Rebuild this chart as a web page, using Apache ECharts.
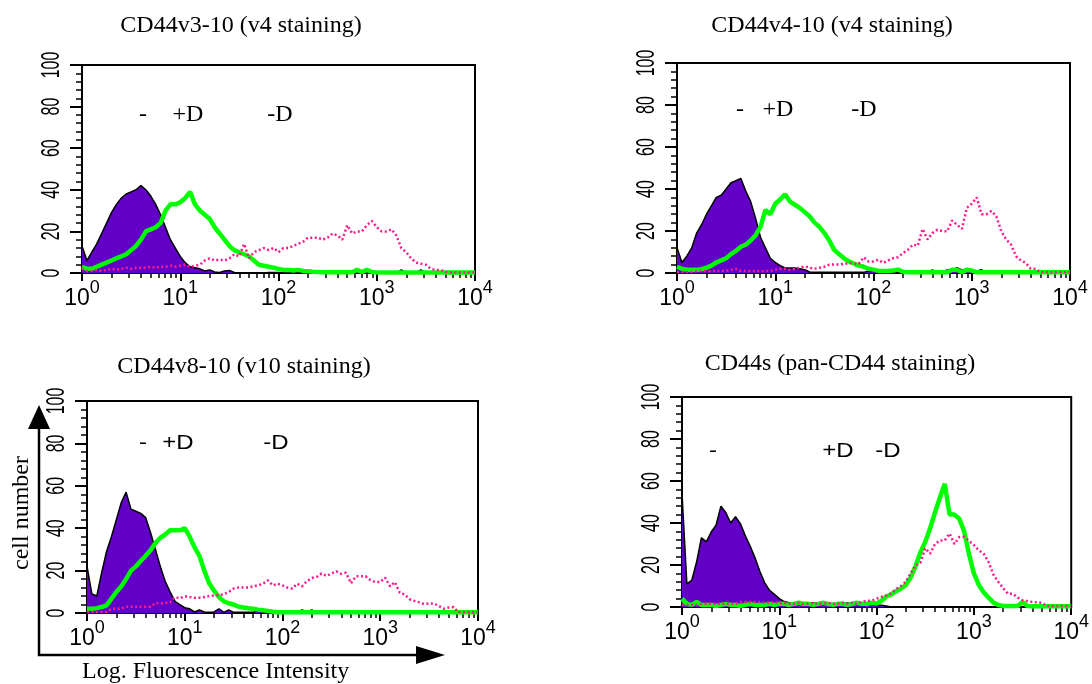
<!DOCTYPE html>
<html>
<head>
<meta charset="utf-8">
<script src="https://cdn.jsdelivr.net/npm/echarts@6/dist/echarts.min.js"></script>
<style>
  html, body { margin: 0; padding: 0; background: #fff; }
  #chart { width: 1092px; height: 684px; }
</style>
</head>
<body>
<div id="chart"></div>
<script>
// Histogram bins: position of each bin in decades of fluorescence (0 -> 10^0, 4 -> 10^4)
const binDecades = Array.from({ length: 81 }, (_, i) => i / 20);

// Axis ticks
const yTickValues = [0, 20, 40, 60, 80, 100];
const minorTickValues = [];
[1, 10, 100, 1000].forEach(b => { for (let m = 2; m <= 9; m++) minorTickValues.push(b * m); });

const panelTitles = [
  'CD44v3-10 (v4 staining)',
  'CD44v4-10 (v4 staining)',
  'CD44v8-10 (v10 staining)',
  'CD44s (pan-CD44 staining)'
];

// ---- CD44v3-10 (v4 staining): cell counts per bin ----
const v3Neg = [
  13, 6, 10, 14, 19, 24, 29, 33, 36, 38,
  39, 40, 42, 40, 37, 33, 28, 22, 16, 12,
  8, 5, 3, 2.5, 2, 1, 1.5, 0.5, 0.3, 1,
  1.2, 0.3, 0, 0, 0, 0, 0, 0, 0.3, 0.3,
  0.3, 0.3, 0, 0, 0, 0, 0, 0, 0, 0,
  0, 0, 0, 0, 0, 0, 0, 0, 0, 0,
  0, 0, 0, 0, 0, 1.5, 0, 0, 0, 1.5,
  0, 0, 0, 0, 0, 0, 0, 0, 0, 0,
  0
];
const v3PlusD = [
  3, 2, 2, 3, 4, 5, 6, 7, 8, 9,
  11, 13, 16, 20, 21, 22, 24, 30, 33, 33,
  34, 36, 39, 33, 30, 28, 26, 22, 19, 16,
  13, 11, 10, 9, 8, 6, 4, 3.5, 3, 2.5,
  2, 1.5, 1.5, 1.2, 1.5, 1, 0.8, 0.6, 0.5, 0.4,
  0.4, 0.4, 0.4, 0.4, 0.4, 0.4, 1.5, 0.5, 1.5, 0.5,
  0.3, 0.3, 0.3, 0.3, 0.3, 0.3, 0.3, 0.3, 0.3, 0.3,
  0.3, 0.3, 0.3, 0.3, 0.3, 0.3, 0.3, 0.3, 0.3, 0.3,
  0.3
];
const v3MinusD = [
  2, 1, 1, 1.5, 1, 1.5, 2, 1.5, 2, 2.5,
  2, 2.5, 2.5, 2.5, 3, 2.5, 3, 3, 3.5, 3,
  3.5, 4, 3, 3.5, 4, 6, 7, 6, 6.5, 6,
  7, 9, 8, 14, 7, 10, 11, 12, 11, 12,
  10, 12, 12, 13, 14, 15, 17, 17, 17, 16,
  17, 19, 18, 16, 23, 19, 20, 20, 23, 25,
  22, 20, 20, 21, 18, 12, 10, 7, 5, 4.5,
  4, 2, 1.5, 1.5, 0.5, 0.3, 0.3, 0.3, 0.3, 0.3,
  0.3
];

// ---- CD44v4-10 (v4 staining) ----
const v4Neg = [
  12, 5, 8, 12, 19, 23, 28, 32, 36, 37,
  40, 43, 44, 45, 39, 34, 26, 17, 12, 7,
  5, 3.5, 2.4, 2.4, 2.4, 2, 1.6, 0.5, 0.3, 0.3,
  0.3, 0.3, 0.3, 0.3, 0.3, 0.3, 0.3, 0.3, 0.3, 1,
  1, 1, 0, 0, 0, 0, 0, 0, 0, 0,
  0, 0, 1.5, 0, 0.5, 1.5, 1, 2.5, 1.5, 1,
  1.5, 1, 1.5, 0.5, 0, 0, 0, 0, 0, 0,
  0, 0, 0, 0, 0, 0, 0, 0, 0, 0,
  0
];
const v4PlusD = [
  3, 2, 1.6, 1.6, 1.6, 1.8, 2.5, 3.5, 5, 6,
  7, 9, 10.5, 12.5, 13.5, 15.5, 18, 22, 30, 28,
  33, 35, 37.5, 34, 32.5, 31, 29, 27, 24, 22,
  19, 15.5, 11, 9, 7, 5.5, 4.5, 3.5, 3, 2,
  1.6, 1, 1, 1, 1.2, 1.6, 0.6, 0.3, 0.3, 0.3,
  0.3, 0.3, 0.3, 0.3, 0.3, 0.3, 1.5, 1.5, 0.5, 1.5,
  1.2, 0.3, 0.3, 0.3, 0.3, 0.3, 0.3, 0.3, 0.3, 0.3,
  0.3, 0.3, 0.3, 0.3, 0.3, 0.3, 0.3, 0.3, 0.3, 0.3,
  0.3
];
const v4MinusD = [
  0.5, 0.5, 0.5, 0.5, 0.8, 1, 0.8, 1, 1, 1,
  1, 1.5, 2, 1, 1, 1, 1, 0.8, 1, 1,
  1.5, 2, 2, 1.5, 2, 2.5, 3.2, 2.5, 2, 2.5,
  3, 4, 4, 4, 4.3, 4.8, 4.5, 4.3, 7.5, 5.5,
  5.5, 6.3, 4.8, 6, 7.1, 7.5, 9.5, 11, 13.5, 13,
  21, 16, 19, 20.6, 20, 19.8, 25, 23, 21, 31,
  33, 36, 28, 28, 29.5, 27, 20, 16, 13.5, 8,
  6, 4.8, 2, 2, 0.3, 0.3, 0.3, 0.3, 0.3, 0.3,
  0.3
];

// ---- CD44v8-10 (v10 staining) ----
const v8Neg = [
  22, 9, 8, 19, 29, 36, 44, 52, 57, 49,
  48, 47, 45, 38, 30, 22, 15, 10, 5.5, 4,
  2.5, 2, 0.5, 1.5, 0.5, 0.3, 0.5, 2, 0.3, 1.5,
  0.3, 0.3, 0.3, 0.3, 0.3, 1.5, 0.3, 0.3, 0.3, 0.3,
  0.3, 0.3, 0.3, 0.3, 1.5, 0.5, 1.5, 0, 0, 0,
  0, 0, 0, 0, 0, 0, 0, 0, 0, 0,
  0, 0, 0, 0, 0, 0, 0, 0, 0, 0,
  0, 0, 0, 0, 0, 0, 0, 0, 0, 0,
  0
];
const v8PlusD = [
  2, 2, 2.3, 2.8, 3.6, 6.8, 9.9, 12.5, 16, 20,
  22, 24.5, 27, 29.6, 33, 35.5, 37, 39, 39, 39,
  40, 36, 31, 27, 20, 14, 10.5, 7.5, 5.5, 4.6,
  4, 3, 2.6, 2.2, 2, 1.6, 1.3, 1, 0.6, 0.4,
  0.3, 0.3, 0.3, 0.3, 0.3, 0.3, 0.3, 0.3, 0.3, 0.3,
  0.3, 0.3, 0.3, 0.3, 0.3, 0.3, 0.3, 0.3, 0.3, 0.3,
  0.3, 0.3, 0.3, 0.3, 0.3, 0.3, 0.3, 0.3, 0.3, 0.3,
  0.3, 0.3, 0.3, 0.3, 0.3, 0.3, 0.3, 0.3, 0.3, 0.3,
  0.3
];
const v8MinusD = [
  0.5, 0.5, 0.5, 0.5, 0.5, 2, 2, 2, 3, 3,
  3, 3, 3, 3, 4.7, 4.5, 4.7, 5, 7.5, 7,
  7.9, 7.5, 7.2, 7.2, 7.5, 8, 8.3, 8.5, 8.8, 10,
  11.5, 12, 12, 12, 12.6, 13, 13.8, 15.4, 13, 13.8,
  13, 12, 11.5, 13.8, 12.6, 15, 16.5, 17, 18.6, 17.5,
  18.6, 19.7, 18.5, 19, 14, 17.3, 17.3, 17.3, 15.5, 14.6,
  14.6, 16.7, 12.6, 14.6, 9.5, 8.8, 6.5, 5.7, 5, 4.2,
  4.5, 4.5, 3.3, 2, 2.6, 2.8, 0.3, 0.3, 0.3, 0.3,
  0.3
];

// ---- CD44s (pan-CD44 staining) ----
const sNeg = [
  54, 11, 12.7, 21.4, 33, 31, 35.7, 39, 48, 45,
  40, 43, 39.7, 34, 29, 23.5, 17, 11.5, 7.9, 6,
  4, 2.6, 2, 1.5, 1.8, 1.2, 1.5, 2, 1.5, 1.2,
  1.8, 1.5, 1.2, 1.5, 2, 1.5, 1.2, 1.5, 1.8, 1.5,
  1, 0.8, 0.5, 0, 0, 0, 0, 0, 0, 0,
  0, 0, 0, 0, 0, 0, 0, 0, 0, 0,
  0, 0, 0, 0, 0, 0, 0, 0, 0, 0,
  0, 0, 0, 0, 0, 0, 0, 0, 0, 0,
  0
];
const sPlusD = [
  4, 1.5, 1, 2.4, 1, 1, 1, 0.5, 1, 1.5,
  1, 1, 0.5, 1, 1.5, 1, 1, 1, 1.5, 1,
  1.5, 1.5, 1, 1.5, 2, 1.5, 1.5, 1, 1.5, 2,
  1.5, 1, 1.5, 1.5, 1, 1.5, 2, 1.5, 1.5, 2,
  1.6, 3, 5, 6, 7.5, 8.7, 10.5, 14, 19.5, 26,
  31, 37.5, 45, 52, 58.7, 44, 44, 42, 36, 25,
  16, 10.5, 7, 4.5, 2.2, 1, 0.5, 0.5, 0.5, 0.5,
  2.4, 0.5, 0.3, 0.3, 0.3, 0.3, 0.3, 0.3, 0.3, 0.3,
  0.3
];
const sMinusD = [
  1, 1, 1, 1, 1.5, 1.5, 1.5, 1.5, 1.5, 1.5,
  1.5, 1.5, 2.4, 2.4, 2.4, 2.4, 2.4, 2, 2, 2.5,
  1.5, 2, 1.5, 1.5, 2, 1.5, 1.5, 2, 1.5, 1.5,
  2, 1.5, 1.5, 2, 1.5, 2, 1.5, 2.5, 3, 3,
  4, 4.8, 5.5, 6.5, 8.5, 10, 12, 16, 19.8, 21,
  28, 25.4, 30, 31.7, 31.7, 35, 30, 33.3, 33.3, 31.5,
  29.5, 27, 25.4, 21.5, 15.5, 12, 9, 6.3, 6.3, 4.5,
  3.2, 2.8, 2.4, 2.2, 2, 0.5, 0.5, 0.5, 0.5, 0.5,
  0.5
];

const panels = [
  { neg: v3Neg, plus: v3PlusD, minus: v3MinusD },
  { neg: v4Neg, plus: v4PlusD, minus: v4MinusD },
  { neg: v8Neg, plus: v8PlusD, minus: v8MinusD },
  { neg: sNeg, plus: sPlusD, minus: sMinusD }
];

// Plot rectangles of the four histograms
const gridBoxes = [
  { left: 82, top: 65, width: 393, height: 208 },
  { left: 677, top: 63, width: 393, height: 210 },
  { left: 87, top: 401, width: 391, height: 212 },
  { left: 682, top: 397, width: 393, height: 210 }
];

const BLACK = '#000';
const FILL_NEG = '#6200C8';
const GREEN = '#00FF00';
const PINK = '#FF1A8C';
const SERIF = '"Liberation Serif", "Times New Roman", serif';
const SANS = '"Liberation Sans", Arial, sans-serif';

const toPairs = arr => binDecades.map((d, i) => [Math.pow(10, d), arr[i]]);

const grid = gridBoxes.map(b => Object.assign({
  show: true, borderColor: BLACK, borderWidth: 2, backgroundColor: 'transparent', containLabel: false
}, b));

const xAxis = [];
const yAxis = [];
gridBoxes.forEach((b, g) => {
  xAxis.push({
    type: 'log', logBase: 10, min: 1, max: 10000, gridIndex: g, position: 'bottom',
    axisLine: { show: true, lineStyle: { color: BLACK, width: 2 } },
    axisTick: { show: true, length: 8, lineStyle: { color: BLACK, width: 2 } },
    splitLine: { show: false },
    axisLabel: {
      margin: 6,
      formatter: v => '{b|10}{s|' + Math.round(Math.log10(v)) + '}',
      rich: {
        b: { fontSize: 23, fontFamily: SANS, color: BLACK, lineHeight: 31, verticalAlign: 'bottom' },
        s: { fontSize: 18, fontFamily: SANS, color: BLACK, lineHeight: 18, verticalAlign: 'top' }
      }
    }
  });
});
gridBoxes.forEach((b, g) => {
  // log-spaced minor ticks 2..9 within each decade
  xAxis.push({
    type: 'log', logBase: 10, min: 1, max: 10000, gridIndex: g, position: 'bottom',
    axisLine: { show: false },
    axisLabel: { show: false },
    splitLine: { show: false },
    axisTick: { show: true, length: 5, customValues: minorTickValues, lineStyle: { color: BLACK, width: 1.5 } }
  });
  yAxis.push({
    type: 'value', min: 0, max: 100, interval: 20, gridIndex: g,
    axisLine: { show: true, lineStyle: { color: BLACK, width: 2 } },
    axisTick: { show: true, length: 12, lineStyle: { color: BLACK, width: 2 } },
    minorTick: { show: true, splitNumber: 5, length: 6, lineStyle: { color: BLACK, width: 1.5 } },
    splitLine: { show: false },
    // tick labels are drawn as condensed, rotated text below
    axisLabel: { show: false }
  });
});

const series = [];
panels.forEach((p, g) => {
  series.push({
    name: '-', type: 'line', xAxisIndex: g, yAxisIndex: g, data: toPairs(p.neg),
    symbol: 'none', z: 2,
    lineStyle: { color: BLACK, width: 1.5 },
    areaStyle: { color: FILL_NEG, opacity: 1 }
  });
  series.push({
    name: '+D', type: 'line', xAxisIndex: g, yAxisIndex: g, data: toPairs(p.plus),
    symbol: 'none', z: 3,
    lineStyle: { color: GREEN, width: 4.5 }
  });
  series.push({
    name: '-D', type: 'line', xAxisIndex: g, yAxisIndex: g, data: toPairs(p.minus),
    symbol: 'none', z: 4,
    lineStyle: { color: PINK, width: 2.5, type: [2, 2.5] }
  });
});

const txt = (text, x, y, font, extra) => Object.assign({
  type: 'text', x, y, z: 100,
  style: { text, font, fill: BLACK, align: 'center', verticalAlign: 'middle' }
}, extra || {});

const graphic = [
  // panel titles
  txt(panelTitles[0], 241, 26, '24px ' + SERIF),
  txt(panelTitles[1], 832, 26, '24px ' + SERIF),
  txt(panelTitles[2], 244, 367, '24px ' + SERIF),
  txt(panelTitles[3], 840, 364, '24px ' + SERIF),
  // curve annotations
  txt('-', 143, 115, '24px ' + SERIF), txt('+D', 188, 115, '24px ' + SERIF), txt('-D', 280, 115, '24px ' + SERIF),
  txt('-', 740, 110, '24px ' + SERIF), txt('+D', 778, 110, '24px ' + SERIF), txt('-D', 864, 110, '24px ' + SERIF),
  txt('-', 143, 443, '20px ' + SANS, { scaleX: 1.2, scaleY: 1 }),
  txt('+D', 178, 443, '20px ' + SANS, { scaleX: 1.2, scaleY: 1 }),
  txt('-D', 276, 443, '20px ' + SANS, { scaleX: 1.2, scaleY: 1 }),
  txt('-', 713, 451, '20px ' + SANS, { scaleX: 1.2, scaleY: 1 }),
  txt('+D', 838, 451, '20px ' + SANS, { scaleX: 1.2, scaleY: 1 }),
  txt('-D', 888, 451, '20px ' + SANS, { scaleX: 1.2, scaleY: 1 }),
  // axis arrows and axis names
  { type: 'polyline', z: 100, shape: { points: [[39, 426], [39, 655], [418, 655]] },
    style: { stroke: BLACK, lineWidth: 2.5, fill: null } },
  { type: 'polygon', z: 100, shape: { points: [[39, 405], [28, 429], [50, 429]] }, style: { fill: BLACK } },
  { type: 'polygon', z: 100, shape: { points: [[445, 655], [416, 646], [416, 664]] }, style: { fill: BLACK } },
  txt('cell number', 22, 513, '24px ' + SERIF, { rotation: Math.PI / 2 }),
  { type: 'text', x: 82, y: 672, z: 100,
    style: { text: 'Log. Fluorescence Intensity', font: '24px ' + SERIF, fill: BLACK, align: 'left', verticalAlign: 'middle' } }
];

const chart = echarts.init(document.getElementById('chart'), null, { renderer: 'canvas' });
chart.setOption({
  animation: false,
  backgroundColor: '#fff',
  grid, xAxis, yAxis, series, graphic
});

// y tick labels: rotated, condensed digits placed at the axis positions of each value
const yLabels = [];
gridBoxes.forEach((b, g) => {
  yTickValues.forEach(v => {
    const pt = chart.convertToPixel({ xAxisIndex: g, yAxisIndex: g }, [1, v]);
    yLabels.push({
      type: 'text', x: pt[0] - 30, y: pt[1], z: 100, rotation: Math.PI / 2, scaleX: 0.64, scaleY: 1,
      style: { text: String(v), font: '25px ' + SANS, fill: BLACK, align: 'center', verticalAlign: 'middle' }
    });
  });
});
chart.setOption({ graphic: graphic.concat(yLabels) });
</script>
</body>
</html>
